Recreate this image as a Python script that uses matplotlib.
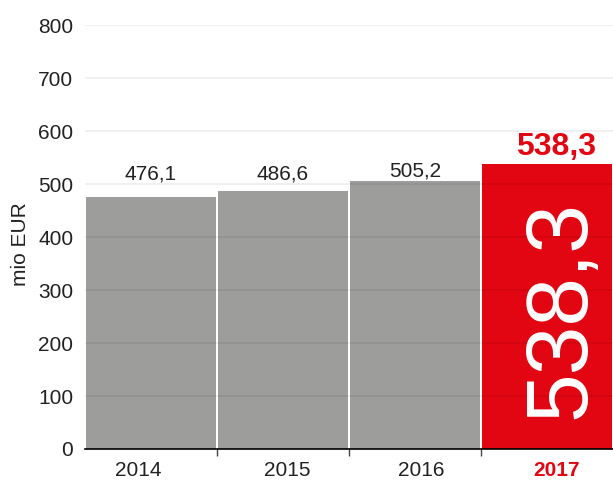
import matplotlib.pyplot as plt
import numpy as np

plt.rcParams['font.family'] = ['Liberation Sans', 'DejaVu Sans']

years = ["2014", "2015", "2016", "2017"]
values = [476.1, 486.6, 505.2, 538.3]
value_labels = ["476,1", "486,6", "505,2", "538,3"]

GRAY = "#9d9d9b"
RED = "#e20613"
TEXT = "#222222"

fig = plt.figure(figsize=(6.13, 4.83), dpi=100)
ax = fig.add_axes([0.1387, 0.0704, 0.8613, 0.8776])

x = np.arange(len(years))
colors = [GRAY] * (len(years) - 1) + [RED]
ax.bar(x, values, width=0.98, color=colors, zorder=1)

ax.set_xlim(-0.5, len(years) - 0.5)
ax.set_ylim(0, 800)
ax.set_yticks(np.arange(0, 801, 100))
ax.yaxis.grid(True, color="black", alpha=0.07, linewidth=1.2, zorder=2)
ax.set_axisbelow(False)

for s in ["left", "right", "top"]:
    ax.spines[s].set_visible(False)
ax.spines["bottom"].set_linewidth(1.2)
ax.spines["bottom"].set_zorder(3)

ax.tick_params(axis="y", length=0, labelsize=15, labelcolor=TEXT, pad=8.5)

# year labels sit slightly off the bar centres in the original
label_shift = [-0.1, 0.03, 0.05, 0.07]
ax.set_xticks(x + np.array(label_shift))
ax.set_xticklabels(years)
ax.tick_params(axis="x", which="major", length=0, labelsize=15, pad=9, labelcolor=TEXT)
ax.set_xticks(x[:-1] + 0.5, minor=True)
ax.tick_params(axis="x", which="minor", length=5, width=1, color="#444444")

last = ax.get_xticklabels()[-1]
last.set_color(RED)
last.set_fontweight("bold")

ax.set_ylabel("mio EUR", fontsize=15, color=TEXT)
ax.yaxis.set_label_coords(-0.104, 0.483)

for i, (v, lab) in enumerate(zip(values[:-1], value_labels[:-1])):
    ax.text(i, max(v, 498) + 10, lab, ha="center", va="baseline", fontsize=15, color=TEXT)

ax.text(x[-1] + 0.07, values[-1] + 16, value_labels[-1], ha="center", va="baseline",
        fontsize=23, fontweight="bold", color=RED)
ax.text(x[-1] + 0.11, 264, value_labels[-1], ha="center", va="center", rotation=90,
        fontsize=63, color="white", zorder=4)

fig.savefig("out.png", dpi=100)
